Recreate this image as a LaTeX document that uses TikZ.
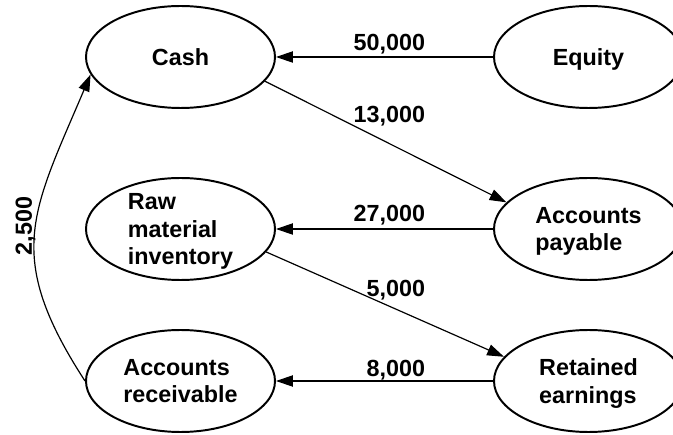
\documentclass[tikz,border=0pt]{standalone}
\usepackage{fontspec}
\setmainfont{Liberation Sans}
\usepackage{tikz}
\usetikzlibrary{shapes.geometric}
\usetikzlibrary{arrows.meta}

\tikzset{
  compte/.style={ellipse, draw, line width=1.4pt, minimum width=4.725cm,
    minimum height=2.55cm, inner sep=0pt, align=left, text depth=0pt},
  flux/.style={line width=0.85pt, -{Triangle[length=12pt,width=8pt]}},
  montant/.style={anchor=base east}
}

\begin{document}
\begin{tikzpicture}[font=\fontsize{16.6}{19.8}\selectfont\bfseries]
\useasboundingbox (0,0) rectangle (16.825,10.85);
% les comptes
\node[compte] (cash) at (4.5125,9.425) {Cash};
\node[compte] (equity) at (14.7125,9.425) {Equity};
\node[compte] (raw) at (4.5125,5.125) {Raw\\material\\inventory};
\node[compte] (payable) at (14.7125,5.125) {Accounts\\payable};
\node[compte] (receivable) at (4.5125,1.325) {Accounts\\receivable};
\node[compte] (retained) at (14.7125,1.325) {Retained\\earnings};

% les flux
\draw[flux] (equity.west) -- (cash.east);
\draw[flux] (cash.-16.5) -- (payable.162);
\draw[flux] (payable.west) -- (raw.east);
\draw[flux] (raw.-15) -- (retained.164);
\draw[flux] (retained.west) -- (receivable.east);
\draw[flux] (receivable.west) to[out=123,in=247,looseness=1.25] (cash.191);

% montants
\node[montant] (m50) at (10.75,9.575) {50,000};
\node[montant] (m13) at (10.75,7.783) {13,000};
\node[montant] (m27) at (10.75,5.307) {27,000};
\node[montant] (m5) at (10.75,3.433) {5,000};
\node[montant] (m8) at (10.75,1.433) {8,000};
\node[rotate=90,anchor=base] (m25) at (0.8,5.2) {2,500};
\end{tikzpicture}
\end{document}
